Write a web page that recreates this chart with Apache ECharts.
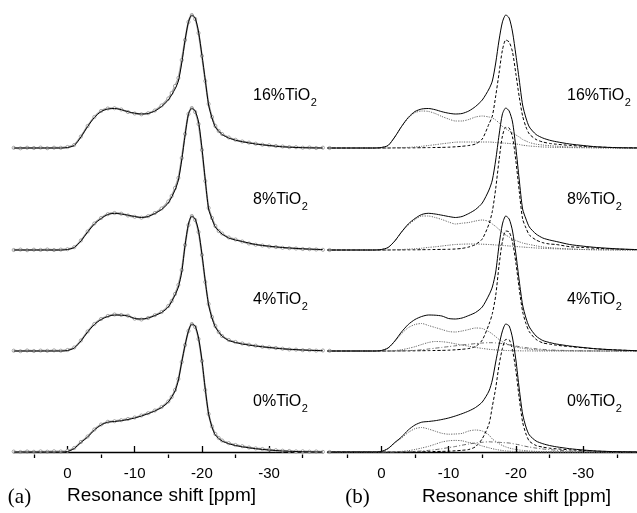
<!DOCTYPE html>
<html><head><meta charset="utf-8">
<script src="https://cdn.jsdelivr.net/npm/echarts@6/dist/echarts.min.js"></script>
<style>html,body{margin:0;padding:0;background:#fff}#c{width:637px;height:513px}</style>
</head><body><div id="c"></div>
<script>
// ppm grids
const ppmFit = [8,1,0,-1,-2,-3,-4,-5,-6,-7,-8,-9,-10,-11,-12,-13,-14,-15,-16,-16.5,-17,-17.5,-18,-18.5,-19,-19.5,-20,-20.5,-21,-21.5,-22,-23,-24,-25,-26,-28,-30,-32,-35,-38];
const ppmExp = [8,7,6,5,4,3,2,1,0,-1,-2,-3,-4,-5,-6,-7,-8,-9,-10,-11,-12,-13,-14,-15,-15.5,-16,-16.5,-17,-17.5,-18,-18.5,-19,-19.5,-20,-20.5,-21,-21.5,-22,-22.5,-23,-24,-25,-26,-27,-28,-29,-30,-31,-32,-33,-34,-35,-36,-37,-38,-39];
const majorTicks = [0,-10,-20,-30];
const minorTicks = [5,-5,-15,-25,-35];
const sampleNames = ['0%TiO','4%TiO','8%TiO','16%TiO'];

// fitted total line (same in a and b)
const fit0  = [0,0,0.5,3.5,9.5,15,22,27,29.8,30.5,31.3,32.5,34,36,38.3,41,44.5,50,61,72,90,107,121,128,126,114,92,63,38,25,17,11,8.3,6.5,5.2,3.3,2,1,0.3,0];
const fit4  = [0,0,0.5,3,10,19,26.5,31.5,34.5,36,35.8,35,32.5,32,33,35.5,38.5,44,56,64,79,106,127,135,132,120,97,70,46,33,24,15,10.5,8.5,7,5,3.5,2.2,1,0.3];
const fit8  = [0,0,0.5,2.5,9,18,26,31.5,35.5,36.7,36,34.8,33.5,32.5,33.5,36.5,40.5,47,60,70,90,115,136,142,139,128,102,70,41,31,23,16,12,10,8.5,5.5,3.8,2.5,1.2,0.4];
const fit16 = [0,0,0.5,2.5,11,21.5,30.5,36.5,39,39.5,38.3,36.3,34.8,34,34.5,37,41.5,48,59,67,85,108,126,133,130,116,93,68,43,30,21,13.5,10,7.8,6.3,4,2.5,1.2,0.3,0];

// experimental points (panel a)
const exp0  = [0.4,0,0.5,0.2,0.6,0.3,0.7,0.5,1.2,4,10,15.5,22.5,27.5,30.2,30.8,31.8,33,34.5,36.5,38.8,41.5,45,50.5,55,62,73,90,107,121,128,125,113,91,62,38,25.5,18,14,11.5,8.8,7,5.8,4.5,3.6,3,2.3,1.8,1.3,1,0.6,0.7,0.3,0.5,0.1,0];
const exp4  = [0.3,-0.2,0.5,0,0.4,0.2,0.6,0.3,1,3.5,10.5,19.5,27,32,35,36.5,36,35.3,32.3,31.5,33,35.8,39,45,50,57,66,81,106,126,135,131,119,96,69,47,34,25,19,15,11,9,7.5,6.3,5.3,4.2,3.6,3,2.3,1.5,1.4,0.8,0.9,0.4,0.5,0.2];
const exp8  = [0,0.4,-0.2,0.3,0.1,0.5,0,0.4,0.8,2.8,9.5,18.5,26.5,32,35.8,37,36.3,34.5,33.2,32.3,33.8,37,41.5,48.5,54,62,72,92,116,136,142,138,126,100,69,42,32,24,19,16.5,12.5,10.5,8.5,6.5,5.3,4.5,3.5,3,2.2,1.8,1.5,1,0.8,0.5,0.2,0];
const exp16 = [0.2,-0.3,0.3,0,0.4,-0.2,0.3,0.2,1,3,11.5,22,31,37,39.5,39.8,38.5,36,34.5,33.7,34.8,37.5,42.5,49.5,55,62,70,88,108,126,133,129,115,92,67,44,31,22,17,14,10.5,8.2,6.5,5.4,4.3,3.3,2.7,2,1.5,0.9,0.8,0.3,0.5,0,0.3,0];

// components (panel b)
const c1_0 = [0,0,0,0,0,0.1,0.1,0.2,0.3,0.4,0.5,0.6,0.8,1.2,1.7,2.5,5.3,13.3,28,45.7,64,87,103.6,112.6,112.2,101.8,81.3,53.5,29.9,18,10.9,6.5,4.9,3.8,3.2,2.2,1.5,0.8,0.3,0];
const c2_0 = [0,0,0.5,3.3,9,14,19.5,23.3,24.5,23,20.8,18.7,17.8,18,18.6,21,22,21,17,13,10.6,8.3,6.5,5.1,4,3.2,2.5,2,1.6,1.3,1,0.6,0.4,0.3,0.2,0.1,0,0,0,0];
const c3_0 = [0,0,0,0,0.2,0.6,1.3,2.5,4,5.6,7.8,10,11.2,11.6,11.2,9.5,8.2,6,4.2,3.3,2.6,2,1.5,1.1,0.8,0.6,0.4,0.3,0.2,0.1,0.1,0,0,0,0,0,0,0,0,0];
const c4_0 = [0,0,0,0,0,0.1,0.3,0.6,1,1.6,2.3,3.3,4.4,5.5,6.8,8,9,9.7,10.2,10,9.9,9.7,9.4,9.2,9,8.4,7.8,7.2,6.3,5.6,5,3.9,3,2.4,1.8,1,0.5,0.2,0,0];

const c1_4 = [0,0,0,0,0,0.1,0.1,0.2,0.3,0.4,0.5,0.6,0.8,1.2,1.7,2.5,4.5,10.9,26.7,37.3,55.5,85.8,109.7,120,119,109,88,62,39.4,27.4,19.2,11.6,8.1,6.9,5.8,4.4,3.2,2.1,1,0.3];
const c2_4 = [0,0,0.5,3,9.5,17.3,23.3,26.5,27.5,25.5,23.5,21.5,19.5,19,20,21.5,23,22.5,19.3,17,14.3,11.5,9.3,7.7,6.3,5.2,4,3.3,2.7,2.2,1.8,1.2,0.8,0.5,0.4,0.2,0.1,0,0,0];
const c3_4 = [0,0,0,0,0.4,1.3,2.6,4.3,6.5,8.5,9.5,9.3,8.5,7.2,6,4.8,3.6,2.6,1.7,1.4,1.1,0.9,0.7,0.5,0.4,0.3,0.2,0.2,0.1,0.1,0.1,0,0,0,0,0,0,0,0,0];
const c4_4 = [0,0,0,0,0,0.2,0.4,0.7,1.2,2,2.8,3.6,4.4,5.2,6,6.7,7.4,8,8.3,8.3,8.1,7.8,7.3,6.7,6.1,5.5,4.9,4.4,3.8,3.3,2.9,2.2,1.6,1.1,0.8,0.4,0.2,0.1,0,0];

const c1_8 = [0,0,0,0,0.1,0.1,0.2,0.2,0.3,0.4,0.5,0.6,0.7,1,1.6,3,5.5,11,26,38.7,61.5,90,114,122.7,122,113,89,58.6,31,22,15,10,7.3,6,5.5,3.3,2.5,1.7,0.8,0.3];
const c2_8 = [0,0,0.5,2.5,9,17.8,25,30.3,34,34,32.5,30.5,28,26,26.8,27.5,29,30,28.5,26,23.5,20.5,17.5,15,13,11.3,9.5,8.2,7,6.2,5.5,4.2,3,2.4,1.8,1,0.5,0.2,0.1,0];
const c3_8 = [0,0,0,0,0.2,0.5,0.8,1.2,1.8,2.6,3.2,4,4.8,5.5,5.8,6,6,5.8,5.5,5.3,5,4.8,4.5,4.3,4,3.8,3.5,3.2,3,2.7,2.5,2,1.7,1.4,1.2,0.8,0.5,0.3,0.1,0];

const c1_16 = [0,0,0,0,0.1,0.1,0.1,0.2,0.3,0.4,0.5,0.6,0.8,1.2,1.7,2.5,4,9,24,32,52,75,98,108,106,96,74,51,32,21,14,8.5,6,4.6,3.8,2.6,1.7,1,0.4,0.2];
const c2_16 = [0,0,0.5,2.5,11,21.3,29.9,35.3,37,36.6,34.5,31.5,29,27,27,28.5,31,32,31,30,28,25,21.6,19.5,17,15,13,11,8.5,7,5.5,3.8,3,2.3,1.8,1,0.6,0.3,0.1,0];
const c3_16 = [0,0,0,0,0.2,0.4,0.6,1,1.7,2.5,3.3,4.2,5,5.8,6,6,6,6,6,5.8,5.5,5.2,5,4.8,4.5,4.2,4,3.5,2.8,2.4,2,1.5,1,0.8,0.6,0.4,0.2,0.1,0,0];

// vertical stacking of the four spectra (layout)
const stackOffset = [0, 101, 202, 304];

const fits = [fit0, fit4, fit8, fit16];
const exps = [exp0, exp4, exp8, exp16];
const comps = [[c1_0,c2_0,c3_0,c4_0],[c1_4,c2_4,c3_4,c4_4],[c1_8,c2_8,c3_8],[c1_16,c2_16,c3_16]];

function pts(xs, ys, off){ return xs.map((x,i)=>[x, ys[i]+off]); }

const compStyles = [
  {color:'#000', width:1, type:[3,2]},
  {color:'#6a6a6a', width:1, type:[1.2,1.2]},
  {color:'#6a6a6a', width:1, type:[1.2,1.2]},
  {color:'#6a6a6a', width:1, type:[4,2,1,2]}
];

const series = [];
for (let k=0;k<4;k++){
  const off = stackOffset[k];
  series.push({type:'line', xAxisIndex:0, yAxisIndex:0, data:pts(ppmExp, exps[k], off),
    symbol:'circle', symbolSize:3.2, showAllSymbol:true, smooth:0.25, clip:false,
    lineStyle:{color:'#a8a8a8', width:1.8},
    itemStyle:{color:'#ffffff', borderColor:'#858585', borderWidth:0.7}, z:2});
  series.push({type:'line', xAxisIndex:0, yAxisIndex:0, data:pts(ppmFit, fits[k], off),
    symbol:'none', smooth:0.25, lineStyle:{color:'#000', width:1}, z:3});
  comps[k].forEach((c,j)=>{
    series.push({type:'line', xAxisIndex:2, yAxisIndex:1, data:pts(ppmFit, c, off),
      symbol:'none', smooth:0.25, lineStyle:compStyles[j], z:2});
  });
  series.push({type:'line', xAxisIndex:2, yAxisIndex:1, data:pts(ppmFit, fits[k], off),
    symbol:'none', smooth:0.25, lineStyle:{color:'#000', width:1}, z:3});
}

const font = '"Liberation Sans", Arial, sans-serif';
function majorAxis(g){
  return {type:'value', gridIndex:g, position:'bottom', offset:0, min:-38, max:8, inverse:true,
    axisLine:{show:true, lineStyle:{color:'#000', width:1.3}},
    axisTick:{show:true, inside:true, length:6, customValues:majorTicks, lineStyle:{color:'#000', width:1.3}},
    axisLabel:{show:true, customValues:majorTicks, margin:8, fontSize:15, color:'#000', fontFamily:font},
    splitLine:{show:false}};
}
function minorAxis(g){
  return {type:'value', gridIndex:g, position:'bottom', offset:0, min:-38, max:8, inverse:true,
    axisLine:{show:false},
    axisTick:{show:true, inside:true, length:3.5, customValues:minorTicks, lineStyle:{color:'#000', width:1.3}},
    axisLabel:{show:false}, splitLine:{show:false}};
}

const ctx = document.createElement('canvas').getContext('2d');
function tw(t, f){ ctx.font = f; return ctx.measureText(t).width; }

const labelY = [402, 300, 200, 96];
const graphic = [];
[[253],[567]].forEach(([lx])=>{
  sampleNames.forEach((s,k)=>{
    const f1 = '16px ' + font, f2 = '11px ' + font;
    const w = tw(s, f1);
    graphic.push({type:'text', x:lx, y:labelY[k], style:{text:s, font:f1, fill:'#000', align:'left', verticalAlign:'middle'}});
    graphic.push({type:'text', x:lx+w+0.5, y:labelY[k]+7, style:{text:'2', font:f2, fill:'#000', align:'left', verticalAlign:'middle'}});
  });
});
graphic.push({type:'text', x:161.5, y:496, style:{text:'Resonance shift [ppm]', font:'19px '+font, fill:'#000', align:'center', verticalAlign:'middle'}});
graphic.push({type:'text', x:516.5, y:497, style:{text:'Resonance shift [ppm]', font:'19px '+font, fill:'#000', align:'center', verticalAlign:'middle'}});
graphic.push({type:'text', x:19.5, y:497, style:{text:'(a)', font:'21px "Liberation Serif", "Times New Roman", serif', fill:'#000', align:'center', verticalAlign:'middle'}});
graphic.push({type:'text', x:357.5, y:497, style:{text:'(b)', font:'21px "Liberation Serif", "Times New Roman", serif', fill:'#000', align:'center', verticalAlign:'middle'}});

const chart = echarts.init(document.getElementById('c'), null, {renderer:'canvas'});
chart.setOption({
  animation:false,
  backgroundColor:'#fff',
  grid:[
    {left:13.7, top:0, width:309.2, height:458},
    {left:327.5, top:0, width:311.8, height:458}
  ],
  xAxis:[majorAxis(0), minorAxis(0), majorAxis(1), minorAxis(1)],
  yAxis:[
    {type:'value', gridIndex:0, min:-6, max:452, show:false},
    {type:'value', gridIndex:1, min:-6, max:452, show:false}
  ],
  series: series,
  graphic: graphic
});
</script>
</body></html>
